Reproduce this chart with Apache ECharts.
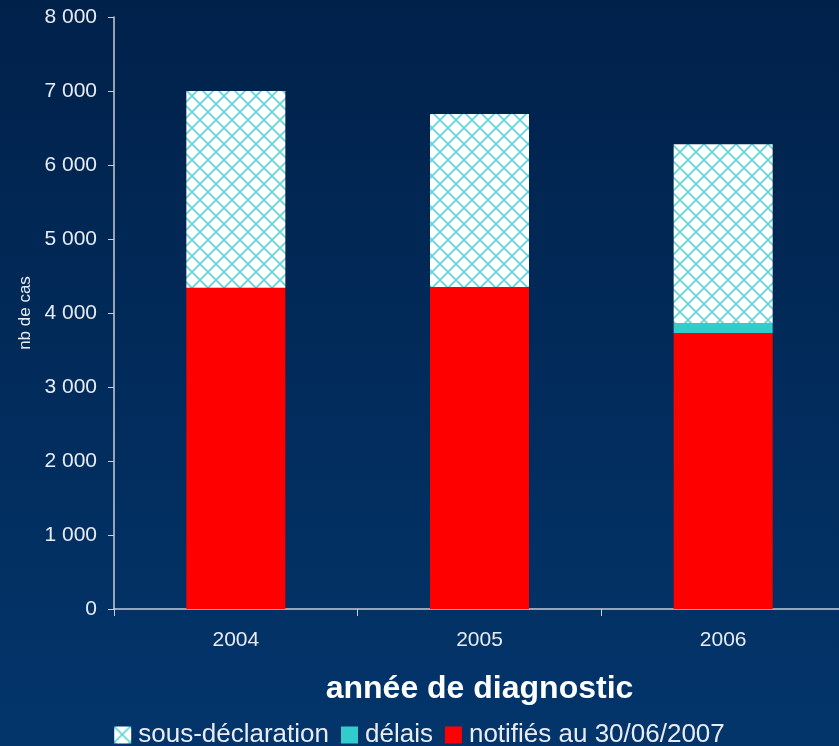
<!DOCTYPE html>
<html>
<head>
<meta charset="utf-8">
<script src="https://cdn.jsdelivr.net/npm/echarts@6/dist/echarts.min.js"></script>
<style>
html, body { margin: 0; padding: 0; }
#chart { width: 839px; height: 746px; }
</style>
</head>
<body>
<div id="chart"></div>
<script>
const years = ['2004', '2005', '2006'];
const notifies = [4340, 4350, 3730];
const delais = [0, 0, 135];
const sousDecl = [2660, 2340, 2415];
const yTicks = [0, 1000, 2000, 3000, 4000, 5000, 6000, 7000, 8000];

// motif quadrillé blanc / cyan
function hatch() {
    const c = document.createElement('canvas');
    c.width = 16; c.height = 16;
    const ctx = c.getContext('2d');
    ctx.fillStyle = '#ffffff';
    ctx.fillRect(0, 0, 16, 16);
    ctx.strokeStyle = '#5cd6d6';
    ctx.lineWidth = 1.6;
    ctx.beginPath();
    ctx.moveTo(-2, -2); ctx.lineTo(18, 18);
    ctx.moveTo(18, -2); ctx.lineTo(-2, 18);
    ctx.stroke();
    return c;
}

let myChart = echarts.init(document.getElementById('chart'));
const fmt = v => String(v).replace(/\B(?=(\d{3})+(?!\d))/g, ' ');
const txt = '#e8ecf2';

myChart.setOption({
    backgroundColor: new echarts.graphic.LinearGradient(0, 0, 0, 1, [
        { offset: 0, color: '#00214a' },
        { offset: 1, color: '#03356b' }
    ]),
    animation: false,
    textStyle: { fontFamily: 'Liberation Sans, Arial, sans-serif' },
    grid: { left: 114, top: 17, width: 731, height: 592, outerBoundsMode: 'none' },
    legend: {
        bottom: -7,
        left: 'center',
        itemWidth: 17,
        itemHeight: 17,
        itemGap: 12,
        icon: 'rect',
        textStyle: { color: txt, fontSize: 26, padding: [0, 0, 0, 2] },
        data: ['sous-déclaration', 'délais', 'notifiés au 30/06/2007']
    },
    xAxis: {
        type: 'category',
        data: years,
        name: 'année de diagnostic',
        nameLocation: 'middle',
        nameGap: 64,
        nameTextStyle: { color: '#ffffff', fontSize: 32, fontWeight: 'bold' },
        axisLine: { lineStyle: { color: '#c8ccd4', width: 1.5 } },
        axisTick: { show: true, length: 7, lineStyle: { color: '#c8ccd4' } },
        axisLabel: { color: txt, fontSize: 21, margin: 21 }
    },
    yAxis: {
        type: 'value',
        min: yTicks[0],
        max: yTicks[yTicks.length - 1],
        interval: 1000,
        name: 'nb de cas',
        nameLocation: 'middle',
        nameGap: 78,
        nameTextStyle: { color: txt, fontSize: 17 },
        splitLine: { show: false },
        axisLine: { show: true, lineStyle: { color: '#c8ccd4', width: 1.5 } },
        axisTick: { show: true, length: 6, lineStyle: { color: '#c8ccd4' } },
        axisLabel: { color: txt, fontSize: 21, margin: 17, formatter: fmt }
    },
    series: [
        {
            name: 'notifiés au 30/06/2007',
            type: 'bar',
            stack: 'total',
            barWidth: 99,
            itemStyle: { color: '#ff0000' },
            data: notifies
        },
        {
            name: 'délais',
            type: 'bar',
            stack: 'total',
            itemStyle: { color: '#33cccc' },
            data: delais
        },
        {
            name: 'sous-déclaration',
            type: 'bar',
            stack: 'total',
            itemStyle: { color: { image: hatch(), repeat: 'repeat' } },
            data: sousDecl
        }
    ]
});
</script>
</body>
</html>
